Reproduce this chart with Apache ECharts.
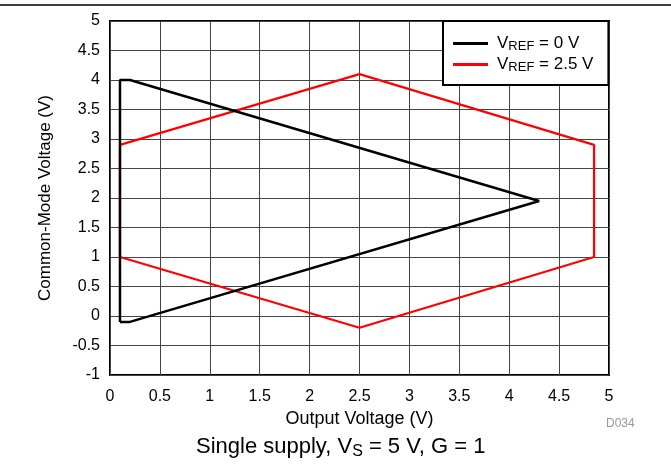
<!DOCTYPE html>
<html><head><meta charset="utf-8">
<script src="https://cdn.jsdelivr.net/npm/echarts@6/dist/echarts.min.js"></script>
<style>html,body{margin:0;padding:0;background:#fff}#c{width:671px;height:464px}</style>
</head><body><div id="c"></div>
<script>
const seriesNames = ['VREF = 0 V', 'VREF = 2.5 V'];
const vref0 = [[0.1,-0.1],[0.1,4.0],[0.2,4.0],[4.3,1.95],[0.2,-0.1],[0.1,-0.1]];
const vref25 = [[0.1,1.0],[0.1,2.9],[2.5,4.1],[4.85,2.9],[4.85,1.0],[2.5,-0.2],[0.1,1.0]];
const xTicks = [0,0.5,1,1.5,2,2.5,3,3.5,4,4.5,5];
const yTicks = [-1,-0.5,0,0.5,1,1.5,2,2.5,3,3.5,4,4.5,5];

const font = 'Liberation Sans, Arial, sans-serif';
const chart = echarts.init(document.getElementById('c'), null, {renderer:'canvas'});
const legendLabel = {
  'VREF = 0 V': '{p|}{a|V}{s|REF}{a| = 0 V}',
  'VREF = 2.5 V': '{p|}{a|V}{s|REF}{a| = 2.5 V}'
};
chart.setOption({
  animation:false,
  backgroundColor:'#fff',
  grid:{left:110, right:62, top:21, bottom:89, show:true, borderColor:'#000', borderWidth:2, backgroundColor:'transparent'},
  xAxis:{type:'value', min:xTicks[0], max:xTicks[xTicks.length-1], interval:0.5,
    name:'Output Voltage (V)', nameLocation:'middle', nameGap:31,
    nameTextStyle:{fontFamily:font, fontSize:18, color:'#000'},
    axisLine:{show:false}, axisTick:{show:false},
    axisLabel:{fontFamily:font, fontSize:16, color:'#000', margin:14},
    splitLine:{show:true, lineStyle:{color:'#444', width:1}}},
  yAxis:{type:'value', min:yTicks[0], max:yTicks[yTicks.length-1], interval:0.5,
    name:'Common-Mode Voltage (V)', nameLocation:'middle', nameGap:56, nameRotate:90,
    nameTextStyle:{fontFamily:font, fontSize:17, color:'#000'},
    axisLine:{show:false}, axisTick:{show:false},
    axisLabel:{fontFamily:font, fontSize:16, color:'#000', margin:10},
    splitLine:{show:true, lineStyle:{color:'#444', width:1}}},
  legend:{
    data:seriesNames, orient:'vertical', left:443, top:21,
    backgroundColor:'#fff', borderColor:'#000', borderWidth:2, borderRadius:0,
    padding:[14,15,11,10], itemGap:3, itemWidth:35, itemHeight:3, icon:'rect',
    formatter:n=>legendLabel[n],
    textStyle:{fontFamily:font, color:'#000',
      rich:{p:{width:4}, a:{fontSize:17, fontFamily:font, color:'#000', lineHeight:20},
            s:{fontSize:13, fontFamily:font, color:'#000', padding:[6,0,0,0]}}}
  },
  series:[
    {name:seriesNames[0], type:'line', data:vref0, showSymbol:false, symbol:'none', color:'#000', lineStyle:{width:2.5, color:'#000'}, z:3},
    {name:seriesNames[1], type:'line', data:vref25, showSymbol:false, symbol:'none', color:'#f00', lineStyle:{width:2.2, color:'#f00'}, z:2}
  ],
  graphic:[
    {type:'line', shape:{x1:0,y1:5,x2:671,y2:5}, style:{stroke:'#000', lineWidth:1.5}},
    {type:'text', left:606, top:418, style:{text:'D034', fontFamily:font, fontSize:12, fill:'#999'}},
    {type:'text', left:196, top:436, style:{text:'{a|Single supply, V}{s|S}{a| = 5 V, G = 1}', fontFamily:font,
      rich:{a:{fontSize:22, fontFamily:font, fill:'#000', lineHeight:26}, s:{fontSize:16, fontFamily:font, fill:'#000', padding:[9,0,0,0]}}}}
  ]
});
</script></body></html>
